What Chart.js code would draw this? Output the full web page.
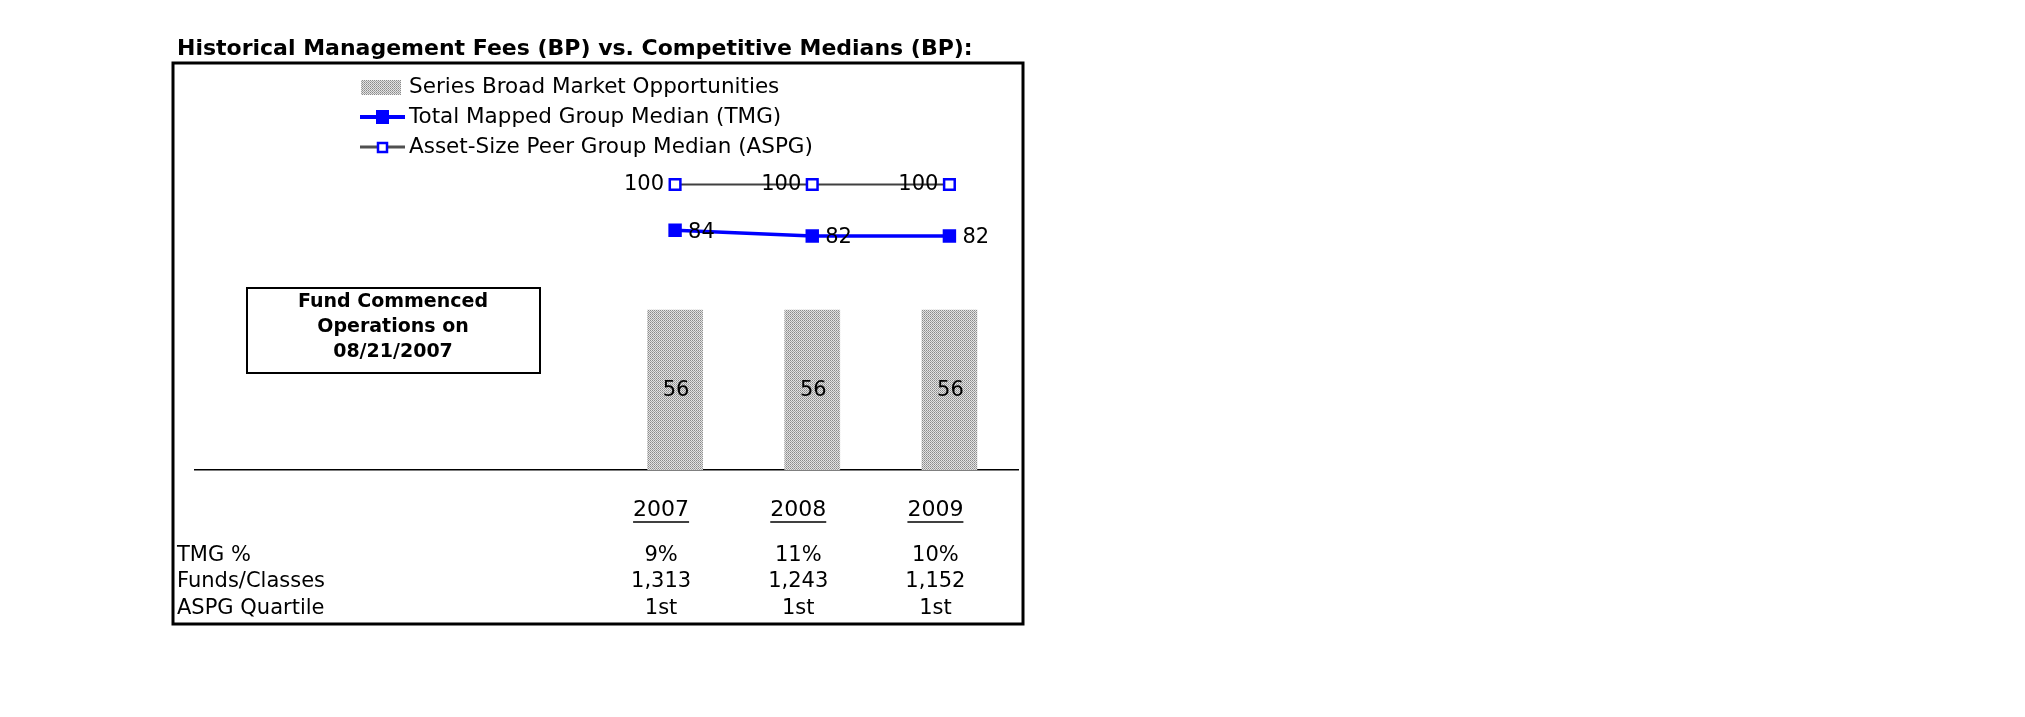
<!DOCTYPE html>
<html>
<head>
<meta charset="utf-8">
<script src="https://cdn.jsdelivr.net/npm/chart.js@4.4.1/dist/chart.umd.min.js"></script>
<style>
  html, body { margin: 0; padding: 0; background: #fff; }
  canvas { display: block; }
</style>
</head>
<body>
<canvas id="canvas" width="2025" height="717"></canvas>
<script>
// data
const years = ['', '', '', '2007', '2008', '2009'];
const fundFees = [null, null, null, 56, 56, 56];
const tmgMedian = [null, null, null, 84, 82, 82];
const aspgMedian = [null, null, null, 100, 100, 100];
const tmgPct = ['', '', '', '9%', '11%', '10%'];
const fundsClasses = ['', '', '', '1,313', '1,243', '1,152'];
const aspgQuartile = ['', '', '', '1st', '1st', '1st'];
const seriesNames = [
    'Series Broad Market Opportunities',
    'Total Mapped Group Median (TMG)',
    'Asset-Size Peer Group Median (ASPG)',
];
const tableRows = [
    ['TMG %', tmgPct],
    ['Funds/Classes', fundsClasses],
    ['ASPG Quartile', aspgQuartile],
];
const titleText = 'Historical Management Fees (BP) vs. Competitive Medians (BP):';
const noteLines = ['Fund Commenced', 'Operations on', '08/21/2007'];

const FONT = '"DejaVu Sans", Verdana, sans-serif';
const TEXT_SIZE = 21;
// table cells sit a little left of the bar centres
const COL_SHIFT = -14;

// the dotted fill used for the fund's bars
function makeDotPattern() {
    const c = document.createElement('canvas');
    c.width = 2;
    c.height = 2;
    const g = c.getContext('2d');
    const px = [
        ['#8a8a8a', '#e6e6e6'],
        ['#e0e0e0', '#a4a4a4'],
    ];
    for (let r = 0; r < 2; r++) {
        for (let col = 0; col < 2; col++) {
            g.fillStyle = px[r][col];
            g.fillRect(col, r, 1, 1);
        }
    }
    return g.createPattern(c, 'repeat');
}

const ctx = document.getElementById('canvas');
const dots = makeDotPattern();

const decorPlugin = {
    id: 'decor',
    beforeDraw(chart) {
        const g = chart.ctx;
        g.save();
        g.fillStyle = '#fff';
        g.fillRect(0, 0, chart.width, chart.height);

        // title
        g.fillStyle = '#000';
        g.font = 'bold 22px ' + FONT;
        g.textBaseline = 'middle';
        g.textAlign = 'left';
        g.fillText(titleText, 177, 49);

        // outer frame
        g.strokeStyle = '#000';
        g.lineWidth = 3;
        g.strokeRect(173, 63, 850, 561);

        // legend
        const rowsY = [87, 117, 147];
        g.fillStyle = dots;
        g.fillRect(361, 80, 40, 15);

        g.strokeStyle = '#0000ff';
        g.lineWidth = 4;
        g.beginPath();
        g.moveTo(360, rowsY[1]);
        g.lineTo(405, rowsY[1]);
        g.stroke();
        g.fillStyle = '#0000ff';
        g.fillRect(376, rowsY[1] - 7, 13, 14);

        g.strokeStyle = '#505050';
        g.lineWidth = 3;
        g.beginPath();
        g.moveTo(360, rowsY[2]);
        g.lineTo(405, rowsY[2]);
        g.stroke();
        g.fillStyle = '#fff';
        g.fillRect(377, rowsY[2] - 5, 11, 11);
        g.strokeStyle = '#0000ff';
        g.lineWidth = 2.5;
        g.strokeRect(378, rowsY[2] - 4, 9, 9);

        g.fillStyle = '#000';
        g.font = '21.5px ' + FONT;
        seriesNames.forEach((name, i) => g.fillText(name, 409, rowsY[i]));

        // note box
        g.strokeStyle = '#000';
        g.lineWidth = 2;
        g.strokeRect(247, 288, 293, 85);
        g.font = 'bold 19px ' + FONT;
        g.textAlign = 'center';
        [302, 327, 352].forEach((y, i) => g.fillText(noteLines[i], 393, y));
        g.restore();
    },
    afterDatasetsDraw(chart) {
        const g = chart.ctx;
        g.save();
        g.fillStyle = '#000';
        g.font = TEXT_SIZE + 'px ' + FONT;
        g.textBaseline = 'middle';

        chart.getDatasetMeta(0).data.forEach((bar, i) => {
            if (fundFees[i] == null) return;
            g.textAlign = 'center';
            g.fillText(String(fundFees[i]), bar.x + 1, (bar.y + bar.base) / 2);
        });
        chart.getDatasetMeta(1).data.forEach((pt, i) => {
            if (tmgMedian[i] == null) return;
            g.textAlign = 'left';
            g.fillText(String(tmgMedian[i]), pt.x + 13, pt.y + 2);
        });
        chart.getDatasetMeta(2).data.forEach((pt, i) => {
            if (aspgMedian[i] == null) return;
            g.textAlign = 'right';
            g.fillText(String(aspgMedian[i]), pt.x - 11, pt.y);
        });
        g.restore();
    },
    afterDraw(chart) {
        const g = chart.ctx;
        const x = chart.scales.x;
        g.save();
        g.fillStyle = '#000';
        g.strokeStyle = '#000';
        g.font = '22px ' + FONT;
        g.textBaseline = 'middle';

        // underline the year labels
        g.lineWidth = 1.5;
        years.forEach((yr, i) => {
            if (!yr) return;
            const w = g.measureText(yr).width;
            const cx = x.getPixelForValue(i) + COL_SHIFT;
            g.beginPath();
            g.moveTo(cx - w / 2, 522);
            g.lineTo(cx + w / 2, 522);
            g.stroke();
        });

        // table below the axis
        g.font = TEXT_SIZE + 'px ' + FONT;
        const rowY = [556, 582, 609];
        tableRows.forEach(([label, vals], r) => {
            g.textAlign = 'left';
            g.fillText(label, 177, rowY[r]);
            g.textAlign = 'center';
            vals.forEach((v, i) => {
                if (v) g.fillText(v, x.getPixelForValue(i) + COL_SHIFT, rowY[r]);
            });
        });
        g.restore();
    },
};

new Chart(ctx, {
    type: 'bar',
    data: {
        labels: years,
        datasets: [
            {
                type: 'bar',
                label: seriesNames[0],
                data: fundFees,
                backgroundColor: dots,
                borderWidth: 0,
                barThickness: 55,
                order: 2,
            },
            {
                type: 'line',
                label: seriesNames[1],
                data: tmgMedian,
                borderColor: '#0000ff',
                borderWidth: 3.5,
                pointStyle: 'rect',
                pointRadius: 9.5,
                pointBackgroundColor: '#0000ff',
                pointBorderColor: '#0000ff',
                pointBorderWidth: 0,
                tension: 0,
                order: 1,
            },
            {
                type: 'line',
                label: seriesNames[2],
                data: aspgMedian,
                borderColor: '#404040',
                borderWidth: 2,
                pointStyle: 'rect',
                pointRadius: 7.5,
                pointBackgroundColor: '#ffffff',
                pointBorderColor: '#0000ff',
                pointBorderWidth: 2.5,
                tension: 0,
                order: 0,
            },
        ],
    },
    options: {
        responsive: false,
        animation: false,
        layout: {
            padding: { left: 195, right: 1007, top: 156, bottom: 187 },
        },
        plugins: {
            legend: { display: false },
            tooltip: { enabled: false },
            title: { display: false },
        },
        scales: {
            x: {
                grid: { display: false, drawTicks: false },
                border: { display: true, color: '#000', width: 1.5 },
                ticks: {
                    color: '#000',
                    font: { family: FONT, size: 22 },
                    padding: 27,
                    labelOffset: COL_SHIFT,
                    autoSkip: false,
                    maxRotation: 0,
                },
                afterFit(scale) {
                    scale.height = 60;
                },
            },
            y: {
                display: false,
                min: 0,
                max: 110,
            },
        },
    },
    plugins: [decorPlugin],
});
</script>
</body>
</html>
